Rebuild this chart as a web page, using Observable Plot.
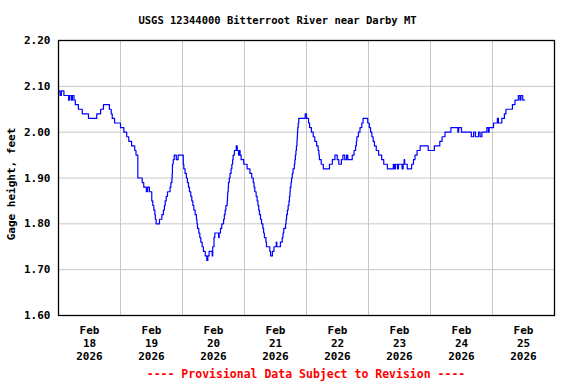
<!DOCTYPE html>
<html>
<head>
<meta charset="utf-8">
<script src="https://cdn.jsdelivr.net/npm/d3@7"></script>
<script src="https://cdn.jsdelivr.net/npm/@observablehq/plot@0.6"></script>
<style>
  body { margin: 0; background: #fff; width: 576px; height: 384px; overflow: hidden; font-family: "DejaVu Sans Mono", monospace; }
  #title { width: 555px; height: 32px; box-sizing: border-box; padding-top: 14px; line-height: 12px; font-size: 10.5px; font-weight: bold; text-align: center; color: #000; white-space: nowrap; }
  #chart { height: 332px; }
  #caption { margin-left: 58px; width: 496px; height: 20px; line-height: 20px; font-size: 11.5px; font-weight: bold; text-align: center; color: #ff0000; white-space: nowrap; }
</style>
</head>
<body>
<div id="title">USGS 12344000 Bitterroot River near Darby MT</div>
<div id="chart"></div>
<div id="caption">---- Provisional Data Subject to Revision ----</div>
<script>
// Hours since 2026-02-18 00:00 at which the gage reading changes, and the reading (feet)
const hours = [
  0, 0.6, 1.1, 2.1, 3.9, 4.3, 5.0, 5.4, 6.0, 6.5, 7.7, 9.2, 11.6, 14.8, 16.3, 17.4, 19.7, 20.4, 20.8, 21.7,
  24.0, 25.3, 26.4, 27.2, 28.3, 29.5, 30.0, 30.7, 32.4, 33.0, 34.0, 34.5, 35.2, 36.1, 36.5, 36.9, 37.3, 37.5, 37.8, 39.1,
  40.0, 40.6, 41.0, 41.3, 41.7, 42.2, 43.2, 43.5, 43.9, 44.0, 44.1, 44.4, 44.8, 45.6, 46.3, 48.3, 48.5, 49.0, 49.5, 49.9,
  50.3, 50.7, 51.2, 51.6, 52.0, 52.4, 52.9, 53.4, 53.6, 53.8, 54.3, 54.7, 55.1, 55.6, 56.1, 56.8, 57.4, 57.8, 58.3, 59.5,
  59.7, 60.2, 60.5, 62.0, 62.2, 62.7, 63.2, 63.9, 64.2, 64.5, 64.8, 65.3, 65.4, 65.5, 65.7, 65.8, 66.1, 66.4, 66.8, 67.1,
  67.4, 67.6, 68.1, 68.8, 69.2, 69.7, 70.0, 70.3, 70.7, 71.7, 73.0, 74.1, 74.8, 75.4, 75.7, 76.0, 76.5, 76.9, 77.2, 77.5,
  77.8, 78.2, 78.6, 79.1, 79.4, 79.7, 80.3, 80.5, 81.8, 82.1, 82.8, 83.4, 84.3, 84.5, 85.9, 86.6, 86.9, 87.2, 87.9, 88.1,
  88.3, 88.6, 88.9, 89.2, 89.4, 89.6, 89.7, 90.0, 90.2, 90.5, 90.8, 91.3, 91.5, 91.7, 91.9, 92.1, 92.3, 92.4, 92.5, 92.6,
  92.8, 93.0, 95.5, 96.0, 96.8, 97.2, 97.9, 98.6, 99.2, 99.9, 100.5, 100.8, 101.0, 101.7, 102.5, 104.9, 106.0, 107.0, 107.9, 108.5,
  109.5, 110.1, 110.8, 111.5, 112.0, 113.7, 114.4, 115.0, 115.3, 115.5, 116.1, 116.7, 117.4, 117.9, 119.7, 120.3, 120.8, 121.3, 121.8, 122.3,
  123.0, 123.9, 125.1, 125.9, 127.3, 129.6, 130.0, 130.4, 131.2, 131.6, 133.0, 133.4, 133.8, 134.0, 135.0, 136.7, 137.4, 138.0, 138.8, 140.0,
  143.1, 145.5, 147.6, 148.5, 149.6, 151.9, 154.6, 154.9, 156.0, 159.8, 160.7, 161.4, 162.6, 163.2, 163.9, 165.8, 166.4, 166.7, 168.4, 169.9,
  170.3, 171.6, 172.6, 173.2, 175.7, 176.7, 178.0, 178.6, 179.0, 179.7, 180.4
];
const gage = [
  2.09, 2.08, 2.09, 2.08, 2.07, 2.08, 2.07, 2.08, 2.07, 2.06, 2.05, 2.04, 2.03, 2.04, 2.05, 2.06, 2.05, 2.04, 2.03, 2.02,
  2.01, 2.00, 1.99, 1.98, 1.97, 1.96, 1.95, 1.90, 1.89, 1.88, 1.87, 1.88, 1.87, 1.85, 1.84, 1.83, 1.82, 1.81, 1.80, 1.81,
  1.82, 1.83, 1.84, 1.85, 1.86, 1.87, 1.88, 1.89, 1.90, 1.91, 1.93, 1.94, 1.95, 1.94, 1.95, 1.93, 1.92, 1.91, 1.90, 1.89,
  1.88, 1.87, 1.86, 1.85, 1.84, 1.83, 1.82, 1.81, 1.80, 1.79, 1.78, 1.77, 1.76, 1.75, 1.74, 1.73, 1.72, 1.73, 1.74, 1.73,
  1.75, 1.77, 1.78, 1.77, 1.78, 1.79, 1.80, 1.81, 1.82, 1.83, 1.84, 1.85, 1.86, 1.87, 1.88, 1.89, 1.90, 1.91, 1.92, 1.93,
  1.94, 1.95, 1.96, 1.97, 1.96, 1.95, 1.96, 1.95, 1.94, 1.93, 1.92, 1.91, 1.90, 1.89, 1.88, 1.87, 1.86, 1.85, 1.84, 1.83,
  1.82, 1.81, 1.80, 1.79, 1.78, 1.77, 1.76, 1.75, 1.74, 1.73, 1.74, 1.75, 1.76, 1.75, 1.76, 1.77, 1.78, 1.79, 1.80, 1.81,
  1.82, 1.83, 1.84, 1.85, 1.86, 1.87, 1.88, 1.89, 1.90, 1.91, 1.92, 1.93, 1.94, 1.95, 1.96, 1.97, 1.98, 1.99, 2.00, 2.01,
  2.02, 2.03, 2.04, 2.03, 2.02, 2.01, 2.00, 1.99, 1.98, 1.97, 1.96, 1.95, 1.94, 1.93, 1.92, 1.93, 1.94, 1.95, 1.94, 1.93,
  1.94, 1.95, 1.94, 1.95, 1.94, 1.95, 1.96, 1.97, 1.98, 1.99, 2.00, 2.01, 2.02, 2.03, 2.02, 2.01, 2.00, 1.99, 1.98, 1.97,
  1.96, 1.95, 1.94, 1.93, 1.92, 1.93, 1.92, 1.93, 1.92, 1.93, 1.92, 1.93, 1.94, 1.93, 1.92, 1.93, 1.94, 1.95, 1.96, 1.97,
  1.96, 1.97, 1.98, 1.99, 2.00, 2.01, 2.00, 2.01, 2.00, 1.99, 2.00, 1.99, 2.00, 1.99, 2.00, 2.01, 2.00, 2.01, 2.02, 2.03,
  2.02, 2.03, 2.04, 2.05, 2.06, 2.07, 2.08, 2.07, 2.08, 2.07, 2.07
];
// Axis tick values and labels
const yTicks = [1.6, 1.7, 1.8, 1.9, 2.0, 2.1, 2.2];
const dayNumbers = [18, 19, 20, 21, 22, 23, 24, 25];
const monthLabel = "Feb";
const yearLabel = "2026";

const start = Date.UTC(2026, 1, 18);
const H = 3600e3;
const data = hours.map((h, i) => ({t: new Date(start + h * H), v: gage[i]}));
const dayStarts = dayNumbers.map(d => new Date(Date.UTC(2026, 1, d)));
const midnights = dayStarts.slice(1);
const noons = dayStarts.map(d => new Date(+d + 12 * H));
const labelFor = new Map(noons.map((d, i) => [+d, `${monthLabel}\n${dayNumbers[i]}\n${yearLabel}`]));

const chart = Plot.plot({
  width: 576,
  height: 332,
  marginTop: 8,
  marginLeft: 58,
  marginRight: 22,
  marginBottom: 49,
  style: {fontFamily: "'DejaVu Sans Mono', monospace", fontSize: "11px", fontWeight: "bold", color: "#000", background: "#fff", overflow: "visible"},
  x: {type: "utc", domain: [new Date(start), new Date(start + 8 * 24 * H)]},
  y: {domain: [1.6, 2.2]},
  marks: [
    Plot.gridX(midnights, {stroke: "#c8c8c8", strokeOpacity: 1, strokeWidth: 1}),
    Plot.gridY(yTicks, {stroke: "#c8c8c8", strokeOpacity: 1, strokeWidth: 1}),
    Plot.lineY(data, {x: "t", y: "v", curve: "step-after", stroke: "#0000ff", strokeWidth: 1.2}),
    Plot.frame({stroke: "#000", strokeWidth: 1.3}),
    Plot.axisY(yTicks, {tickSize: 0, tickPadding: 8, tickFormat: d => d.toFixed(2), label: null}),
    Plot.axisX(noons, {tickSize: 0, tickPadding: 9, tickFormat: d => labelFor.get(+d), label: null, lineHeight: 1.18}),
    Plot.text(["Gage height, feet"], {frameAnchor: "left", textAnchor: "middle", rotate: -90, dx: -47, dy: 6, fill: "#000"})
  ]
});
document.getElementById("chart").appendChild(chart);
</script>
</body>
</html>
